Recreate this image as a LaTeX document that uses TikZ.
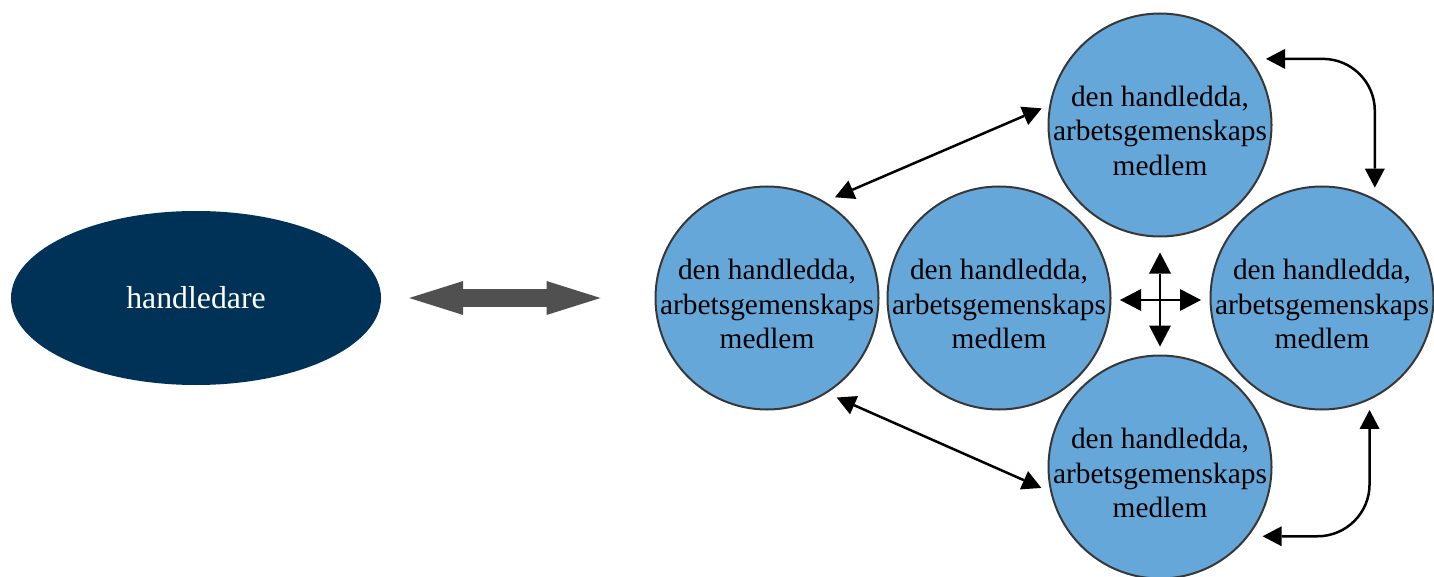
\documentclass[tikz,border=0pt]{standalone}
\usepackage{fontspec}
\setmainfont{Liberation Serif}
\usetikzlibrary{arrows.meta,shapes.geometric}
\definecolor{navy}{RGB}{0,49,87}
\definecolor{member}{RGB}{102,167,218}
\definecolor{rim}{RGB}{55,55,55}
\definecolor{bigarrow}{RGB}{80,80,80}
\begin{document}
\begin{tikzpicture}[x=1pt,y=-1pt,
  member/.style={circle, draw=rim, line width=2pt, fill=member,
    minimum size=223pt, inner sep=-14pt, align=center,
    font=\fontsize{29.4}{34.5}\selectfont,
    text height=101pt, text depth=0pt},
  supervisor/.style={ellipse, fill=navy, minimum width=370pt,
    minimum height=174pt, inner sep=0pt, text=white,
    font=\fontsize{31.8}{36}\selectfont},
  link/.style={{Triangle[length=19pt,width=20pt,line width=0pt]}-{Triangle[length=19pt,width=20pt,line width=0pt]},
    line width=2.5pt, black},
  cross/.style={{Triangle[length=21pt,width=22pt,line width=0pt]}-{Triangle[length=21pt,width=22pt,line width=0pt]},
    line width=2.5pt, black},
  bigconn/.style={{Triangle[length=54pt,width=34pt,line width=0pt]}-{Triangle[length=54pt,width=34pt,line width=0pt]},
    line width=18pt, draw=bigarrow}]
\useasboundingbox (0,0) rectangle (1434,577);

% supervisor
\node[supervisor] (H) at (196,298) {handledare};

% work-community members
\node[member] (L) at (767,298) {den handledda,\\arbetsgemenskaps\\medlem};
\node[member] (C) at (999,298) {den handledda,\\arbetsgemenskaps\\medlem};
\node[member] (T) at (1160,125) {den handledda,\\arbetsgemenskaps\\medlem};
\node[member] (R) at (1322,298) {den handledda,\\arbetsgemenskaps\\medlem};
\node[member] (B) at (1160,467) {den handledda,\\arbetsgemenskaps\\medlem};

% supervisor <-> group
\draw[bigconn, shorten <=28pt, shorten >=54pt] (H.east) -- (L.west);

% links between members
\draw[link] ([shift={(56:9pt)}]L.56) -- ([shift={(172:7pt)}]T.172);
\draw[link] ([shift={(305:9pt)}]L.305) -- ([shift={(190:8pt)}]B.190);
\draw[link, rounded corners=52pt] ([xshift=15pt]T.36) -| ([yshift=11pt]R.62);
\draw[link, rounded corners=52pt] ([xshift=14pt]B.-38) -| ([yshift=-10pt]R.-65);

% four-way arrow in the middle
\coordinate (Xn) at (1160,252.5);
\coordinate (Xs) at (1160,346.5);
\coordinate (Xw) at (1120,300);
\coordinate (Xe) at (1201,300);
\draw[cross] (Xn) -- (Xs);
\draw[cross] (Xw) -- (Xe);
\end{tikzpicture}
\end{document}
